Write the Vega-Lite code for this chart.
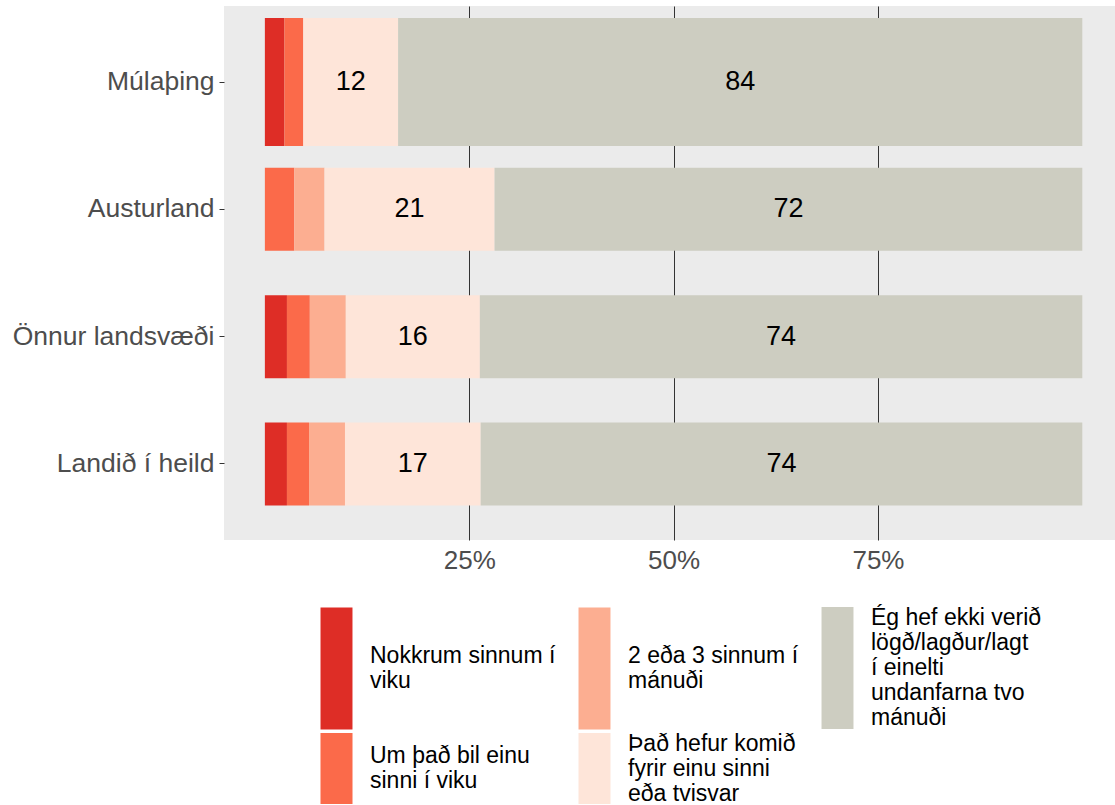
{
  "$schema": "https://vega.github.io/schema/vega-lite/v6.json",
  "width": 891,
  "height": 534,
  "autosize": {"type": "none"},
  "padding": {"left": 224, "top": 6, "right": 0, "bottom": 265},
  "background": "white",
  "config": {
    "font": "Liberation Sans",
    "view": {"fill": "#EBEBEB", "stroke": null}
  },
  "data": {
    "values": [
      {"region": "Múlaþing", "cat": "Nokkrum sinnum í viku", "k": 1, "value": 2.4},
      {"region": "Múlaþing", "cat": "Um það bil einu sinni í viku", "k": 2, "value": 2.3},
      {"region": "Múlaþing", "cat": "Það hefur komið fyrir einu sinni eða tvisvar", "k": 4, "value": 11.6},
      {"region": "Múlaþing", "cat": "Ég hef ekki verið lögð/lagður/lagt í einelti undanfarna tvo mánuði", "k": 5, "value": 83.7},
      {"region": "Austurland", "cat": "Um það bil einu sinni í viku", "k": 2, "value": 3.6},
      {"region": "Austurland", "cat": "2 eða 3 sinnum í mánuði", "k": 3, "value": 3.7},
      {"region": "Austurland", "cat": "Það hefur komið fyrir einu sinni eða tvisvar", "k": 4, "value": 20.8},
      {"region": "Austurland", "cat": "Ég hef ekki verið lögð/lagður/lagt í einelti undanfarna tvo mánuði", "k": 5, "value": 71.9},
      {"region": "Önnur landsvæði", "cat": "Nokkrum sinnum í viku", "k": 1, "value": 2.7},
      {"region": "Önnur landsvæði", "cat": "Um það bil einu sinni í viku", "k": 2, "value": 2.8},
      {"region": "Önnur landsvæði", "cat": "2 eða 3 sinnum í mánuði", "k": 3, "value": 4.4},
      {"region": "Önnur landsvæði", "cat": "Það hefur komið fyrir einu sinni eða tvisvar", "k": 4, "value": 16.4},
      {"region": "Önnur landsvæði", "cat": "Ég hef ekki verið lögð/lagður/lagt í einelti undanfarna tvo mánuði", "k": 5, "value": 73.7},
      {"region": "Landið í heild", "cat": "Nokkrum sinnum í viku", "k": 1, "value": 2.7},
      {"region": "Landið í heild", "cat": "Um það bil einu sinni í viku", "k": 2, "value": 2.7},
      {"region": "Landið í heild", "cat": "2 eða 3 sinnum í mánuði", "k": 3, "value": 4.4},
      {"region": "Landið í heild", "cat": "Það hefur komið fyrir einu sinni eða tvisvar", "k": 4, "value": 16.6},
      {"region": "Landið í heild", "cat": "Ég hef ekki verið lögð/lagður/lagt í einelti undanfarna tvo mánuði", "k": 5, "value": 73.6}
    ]
  },
  "transform": [
    {"stack": "value", "groupby": ["region"], "sort": [{"field": "k", "order": "ascending"}], "as": ["v0", "v1"]}
  ],
  "encoding": {
    "y": {
      "field": "region",
      "type": "nominal",
      "sort": ["Múlaþing", "Austurland", "Önnur landsvæði", "Landið í heild"],
      "scale": {"paddingInner": 0, "paddingOuter": 0.097},
      "axis": {
        "title": null,
        "domain": false,
        "ticks": true,
        "tickSize": 5,
        "tickColor": "#333333",
        "tickWidth": 1,
        "labelFontSize": 26.5,
        "labelColor": "#4D4D4D",
        "labelPadding": 5,
        "labelLimit": 400,
        "grid": false
      }
    }
  },
  "layer": [
    {
      "mark": {"type": "bar"},
      "encoding": {
        "x": {
          "field": "v0",
          "type": "quantitative",
          "scale": {"domain": [-5, 104], "nice": false, "zero": false},
          "axis": {
            "title": null,
            "values": [25, 50, 75],
            "labelExpr": "datum.value + '%'",
            "domain": false,
            "ticks": false,
            "grid": true,
            "gridColor": "#333333",
            "gridWidth": 1,
            "labelFontSize": 26,
            "labelColor": "#4D4D4D",
            "labelPadding": 7
          }
        },
        "x2": {"field": "v1"},
        "size": {
          "condition": {"test": "datum.region === 'Múlaþing'", "value": 128},
          "value": 83
        },
        "color": {
          "field": "cat",
          "type": "nominal",
          "scale": {
            "domain": [
              "Nokkrum sinnum í viku",
              "Um það bil einu sinni í viku",
              "2 eða 3 sinnum í mánuði",
              "Það hefur komið fyrir einu sinni eða tvisvar",
              "Ég hef ekki verið lögð/lagður/lagt í einelti undanfarna tvo mánuði"
            ],
            "range": ["#DE2D26", "#FB6A4A", "#FCAE91", "#FEE5D9", "#CDCDC1"]
          },
          "legend": {
            "title": null,
            "orient": "none",
            "legendX": 96,
            "legendY": 601,
            "columns": 3,
            "columnPadding": 22,
            "rowPadding": 2,
            "padding": 0,
            "gridAlign": "each",
            "symbolType": "square",
            "symbolSize": 400,
            "symbolStrokeWidth": 0,
            "labelFontSize": 23,
            "labelColor": "black",
            "labelLimit": 500,
            "labelExpr": "datum.label == 'Nokkrum sinnum í viku' ? ['Nokkrum sinnum í', 'viku'] : datum.label == 'Um það bil einu sinni í viku' ? ['Um það bil einu', 'sinni í viku'] : datum.label == '2 eða 3 sinnum í mánuði' ? ['2 eða 3 sinnum í', 'mánuði'] : datum.label == 'Það hefur komið fyrir einu sinni eða tvisvar' ? ['Það hefur komið', 'fyrir einu sinni', 'eða tvisvar'] : ['Ég hef ekki verið', 'lögð/lagður/lagt', 'í einelti', 'undanfarna tvo', 'mánuði']",
            "encode": {
              "symbols": {
                "update": {
                  "x": {"value": 16.5},
                  "y": {"signal": "datum.index % 2 == 0 ? 61 : 35.5"},
                  "size": {"signal": "datum.index % 2 == 0 ? 14884 : 5041"},
                  "shape": {"signal": "datum.index % 2 == 0 ? 'M-0.262,-1H0.262V1H-0.262Z' : 'M-0.451,-1H0.451V1H-0.451Z'"}
                }
              },
              "labels": {
                "update": {
                  "x": {"value": 50},
                  "y": {"signal": "[48.5, 23, 48.5, 10.5, 11][datum.index]"},
                  "lineHeight": {"value": 25},
                  "baseline": {"value": "middle"}
                }
              }
            }
          }
        }
      }
    },
    {
      "transform": [
        {"filter": "datum.k >= 4"},
        {"calculate": "(datum.v0 + datum.v1) / 2", "as": "mid"}
      ],
      "mark": {"type": "text", "fontSize": 27, "color": "black", "baseline": "middle"},
      "encoding": {
        "x": {"field": "mid", "type": "quantitative"},
        "text": {"field": "value", "type": "quantitative", "format": ".0f"}
      }
    }
  ]
}
